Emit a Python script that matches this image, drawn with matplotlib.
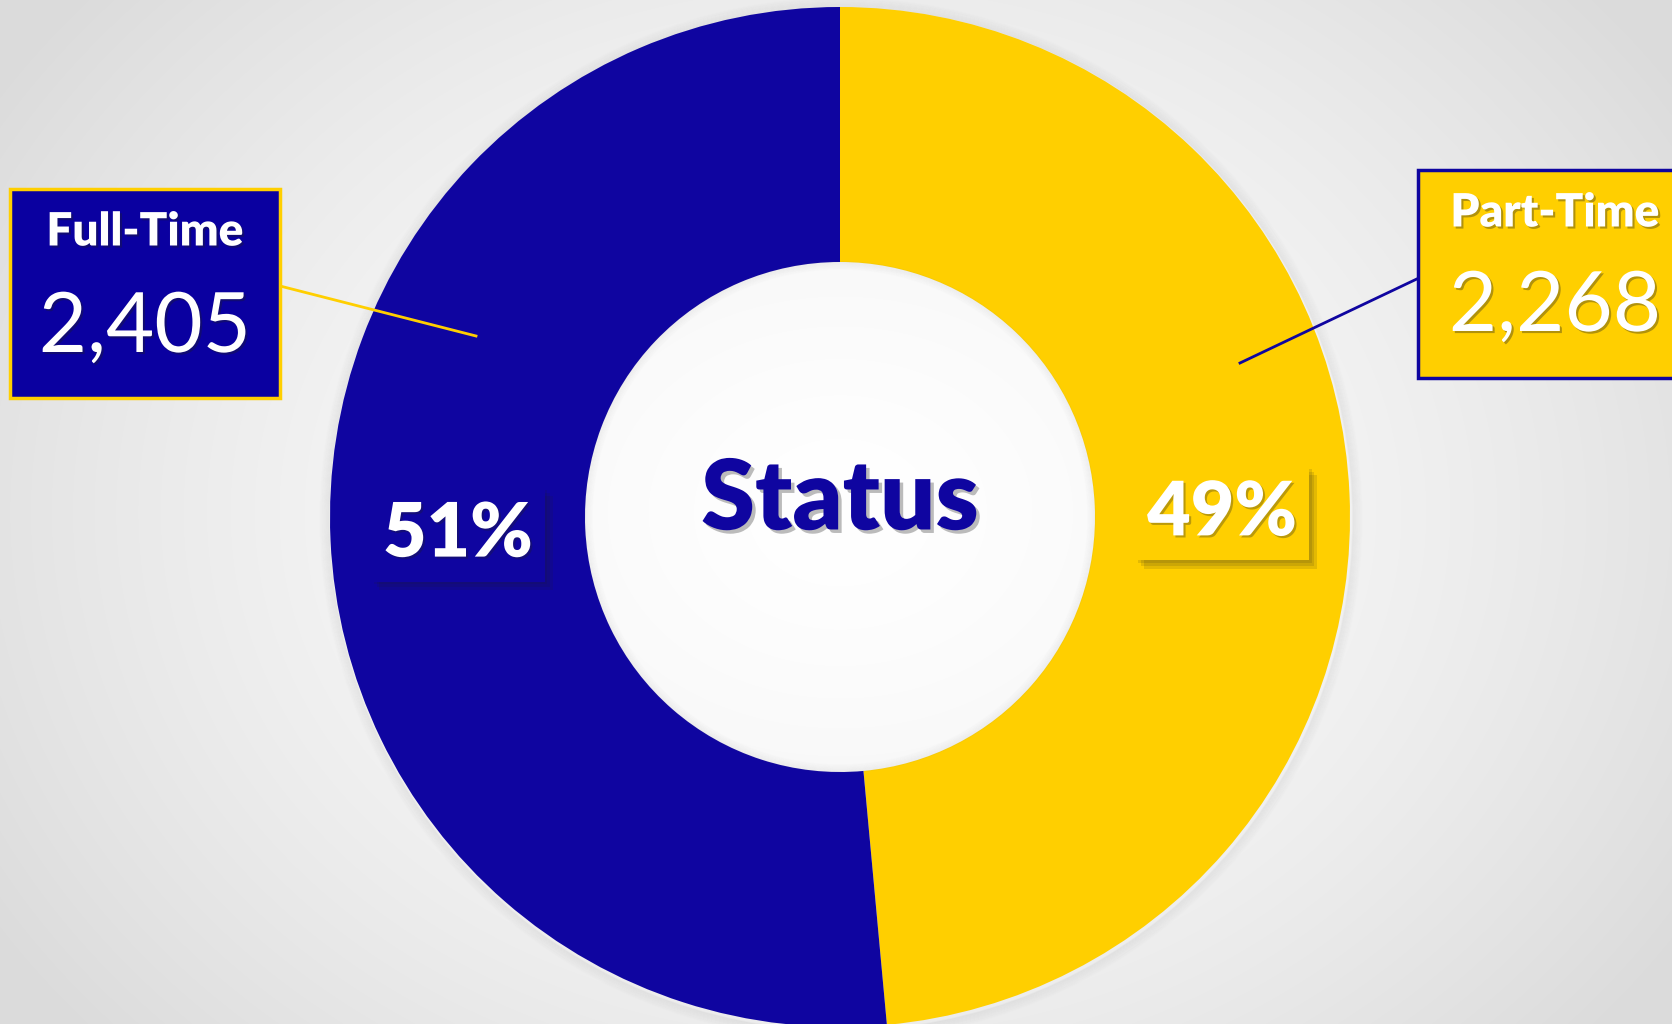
import matplotlib.pyplot as plt
import matplotlib.patheffects as pe
from matplotlib.patches import Rectangle, Circle
import numpy as np

# data
categories = ['Part-Time', 'Full-Time']
counts = [2268, 2405]
colors = ['#FFCF00', '#0F05A0']
center_title = 'Status'

plt.rcParams['font.family'] = ['Lato', 'DejaVu Sans']

W, H = 1672, 1024
fig = plt.figure(figsize=(W / 100, H / 100), dpi=100)

# background: soft radial gradient
bg = fig.add_axes([0, 0, 1, 1])
yy, xx = np.mgrid[0:H, 0:W]
d = np.sqrt(((xx - 840) / 1000.0) ** 2 + ((yy - 512) / 800.0) ** 2)
shade = 1.0 - 0.14 * np.clip(d, 0, 1) ** 1.5
bg.imshow(np.dstack([shade, shade, shade]), extent=[0, W, 0, H], aspect='auto', zorder=0)
bg.set_axis_off()

ax = fig.add_axes([0, 0, 1, 1])
ax.patch.set_alpha(0)

cx, cy, R = 840, 507, 510

# soft glow round the ring and inside the hole
for k in range(10):
    ax.add_patch(Circle((cx + 1, cy - 2), R + 2 + k, facecolor='none', edgecolor='#606060',
                        lw=1.2, alpha=0.05 * (1 - k / 10), zorder=1))

wedges, texts, autotexts = ax.pie(
    counts, colors=colors, startangle=90, counterclock=False,
    center=(cx, cy), radius=R,
    wedgeprops=dict(width=R * 0.5, linewidth=0),
    autopct='%.0f%%', pctdistance=0.75,
    textprops=dict(color='white', fontsize=54, fontweight='heavy'),
)
for w in wedges:
    w.set_zorder(2)
for k in range(8):
    ax.add_patch(Circle((cx, cy), R * 0.5 - k, facecolor='none', edgecolor='#707070',
                        lw=1.2, alpha=0.05 * (1 - k / 8), zorder=3))

# nudge the 49% label a little lower, as in the original
px, py = autotexts[0].get_position()
autotexts[0].set_position((px, py - 14))

box_shadow = [pe.SimplePatchShadow(offset=(o, -o), shadow_rgbFace='#202020', alpha=0.12)
              for o in (2, 4, 6)] + [pe.Normal()]
for t, c in zip(autotexts, colors):
    t.set_zorder(6)
    t.set_bbox(dict(boxstyle='square,pad=0.16', facecolor=c, edgecolor='none'))
    t.get_bbox_patch().set_path_effects(box_shadow)
    t.set_path_effects([pe.withSimplePatchShadow(offset=(1.5, -1.5), shadow_rgbFace='#202020', alpha=0.3)])

ax.text(cx, 523, center_title, ha='center', va='center', fontsize=70, fontweight='heavy',
        color='#0F05A0', zorder=6,
        path_effects=[pe.withSimplePatchShadow(offset=(2.5, -2.5), shadow_rgbFace='#404040', alpha=0.35)])

txt_shadow = [pe.withSimplePatchShadow(offset=(1.5, -1.5), shadow_rgbFace='#202020', alpha=0.35)]

# Full-Time callout
ax.plot([280, 476], [738, 688], color='#FFCF00', lw=2, zorder=4)
ax.add_patch(Rectangle((10, 626), 270, 209, facecolor='#0A00A0', edgecolor='#FFCF00', lw=2.5, zorder=5))
ax.text(145, 792, categories[1], ha='center', va='center', fontsize=33, fontweight='heavy',
        color='white', zorder=6, path_effects=txt_shadow)
ax.text(145, 695, f'{counts[1]:,}', ha='center', va='center', fontsize=60,
        color='white', zorder=6, path_effects=txt_shadow)

# Part-Time callout
ax.plot([1421, 1240], [747, 661], color='#0F05A0', lw=2, zorder=4)
ax.add_patch(Rectangle((1418, 646), 300, 208, facecolor='#FFCF00', edgecolor='#0F05A0', lw=2.5, zorder=5))
ax.text(1555, 811, categories[0], ha='center', va='center', fontsize=33, fontweight='heavy',
        color='white', zorder=6, path_effects=txt_shadow)
ax.text(1555, 716, f'{counts[0]:,}', ha='center', va='center', fontsize=60,
        color='white', zorder=6, path_effects=txt_shadow)

ax.set_xlim(0, W)
ax.set_ylim(0, H)
ax.set_aspect('auto')
ax.set_axis_off()

fig.savefig('out.png', dpi=100)
